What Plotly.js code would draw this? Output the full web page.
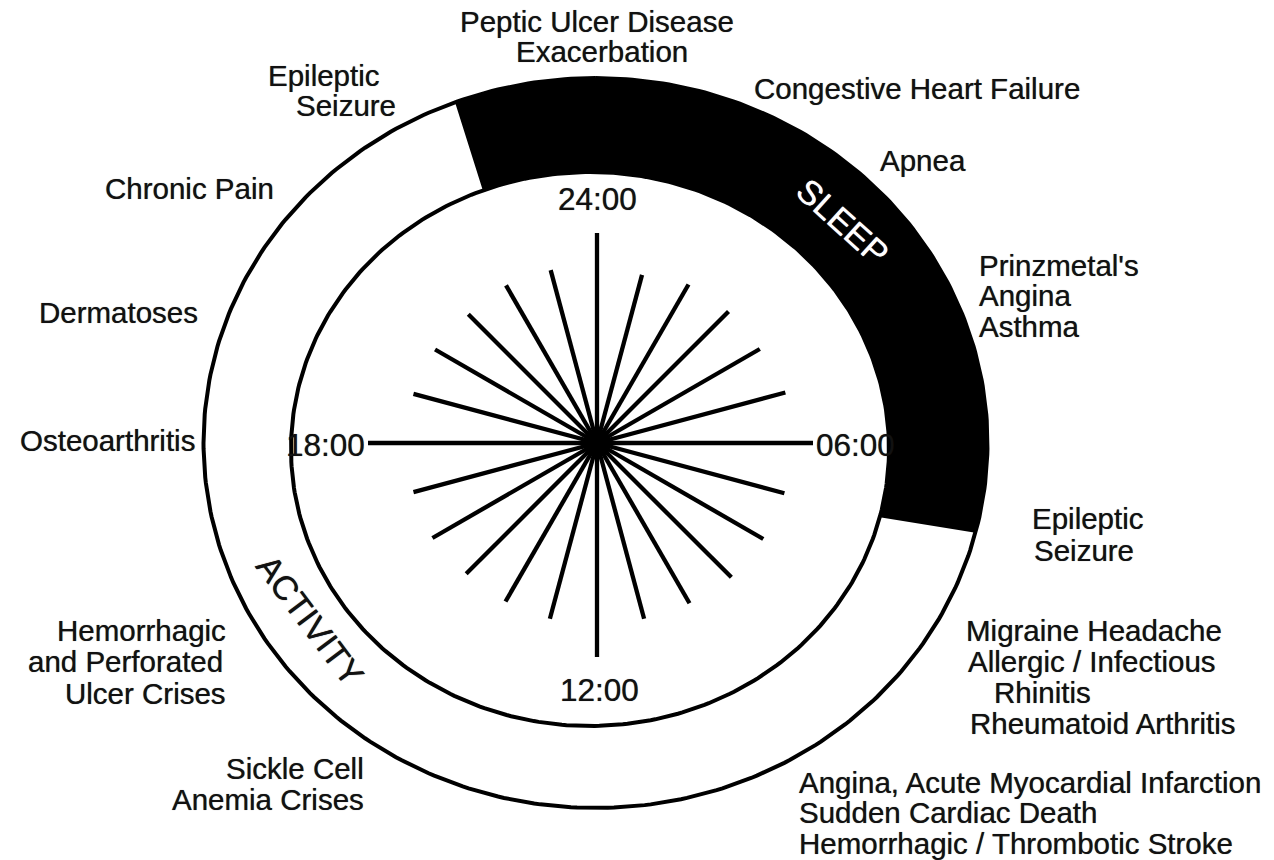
<!DOCTYPE html>
<html>
<head>
<meta charset="utf-8">
<script src="https://cdn.plot.ly/plotly-3.0.1.min.js"></script>
<style>
html, body { margin: 0; padding: 0; background: #ffffff; }
#chart { width: 1274px; height: 860px; }
</style>
</head>
<body>
<div id="chart"></div>
<script>
// ================= DATA =================
// one spoke per clock hour (24-hour dial, 24:00 at top, clockwise)
const spokeHours = [0, 1, 2, 3, 4, 5, 6, 7, 8, 9, 10, 11, 12, 13, 14, 15, 16, 17, 18, 19, 20, 21, 22, 23];
// relative spoke lengths
const spokeLengths = [210, 174, 183, 186, 188, 195, 216, 194, 192, 190, 185, 182, 214, 182, 183, 185, 190, 190, 229, 190, 187, 182, 182, 179];

// sleep span on the 24-hour dial (hours)
const sleepStartHour = 22.6;
const sleepEndHour = 6.95;

const clockLabels = ["24:00", "06:00", "12:00", "18:00"];
const phaseLabels = ["SLEEP", "ACTIVITY"];

const conditionLabels = [
  ["Peptic Ulcer Disease", "Exacerbation"],
  ["Epileptic", "Seizure"],
  ["Congestive Heart Failure"],
  ["Apnea"],
  ["Chronic Pain"],
  ["Prinzmetal's", "Angina", "Asthma"],
  ["Dermatoses"],
  ["Osteoarthritis"],
  ["Epileptic", "Seizure"],
  ["Migraine Headache", "Allergic / Infectious", "Rhinitis", "Rheumatoid Arthritis"],
  ["Hemorrhagic", "and Perforated", "Ulcer Crises"],
  ["Sickle Cell", "Anemia Crises"],
  ["Angina, Acute Myocardial Infarction", "Sudden Cardiac Death", "Hemorrhagic / Thrombotic Stroke"]
];

// ================= LAYOUT / GEOMETRY =================
const W = 1274, H = 860;
const outer = { cx: 595.5, cy: 443, rx: 392, ry: 365 };
const inner = { cx: 590, cy: 449, rx: 299, ry: 277 };
const hub = { cx: 597, cy: 443 };
const INK = "#111111";
const FONT = "Liberation Sans, Arial, Helvetica, sans-serif";
const LABEL_SIZE = 29.5;
const SHADOW = "0px 0px 0.7px rgba(0,0,0,0.7)";

const conditionPlacement = [
  { anchor: "center", xs: [597, 602], y: 21, dy: 30 },
  { anchor: "center", xs: [324, 346], y: 75, dy: 30 },
  { anchor: "left", xs: [752], y: 88 },
  { anchor: "left", xs: [878], y: 160 },
  { anchor: "right", xs: [276], y: 188 },
  { anchor: "left", xs: [977, 977, 977], y: 265, dy: 30.5 },
  { anchor: "right", xs: [200], y: 312 },
  { anchor: "right", xs: [197], y: 440 },
  { anchor: "left", xs: [1030, 1032], y: 518, dy: 32 },
  { anchor: "left", xs: [964, 966, 992, 968], y: 630, dy: 31 },
  { anchor: "right", xs: [228, 225, 228], y: 630, dy: 31.5 },
  { anchor: "right", xs: [366, 366], y: 768, dy: 31 },
  { anchor: "left", xs: [797, 797, 797], y: 782, dy: 30.5 }
];
const clockPlacement = [
  { x: 597, y: 199, anchor: "center" },
  { x: 814, y: 445, anchor: "left" },
  { x: 599, y: 690, anchor: "center" },
  { x: 367, y: 445, anchor: "right" }
];
const phasePlacement = [
  { x: 843, y: 222, angle: 42, color: "#ffffff" },
  { x: 310, y: 620, angle: 53, color: INK }
];

// hour -> angle (radians) clockwise from top
function hourAngle(h) { return h / 24 * 2 * Math.PI; }

function ellipseArc(e, h0, h1, n) {
  const xs = [], ys = [];
  for (let i = 0; i <= n; i++) {
    const a = hourAngle(h0 + (h1 - h0) * i / n);
    xs.push(e.cx + e.rx * Math.sin(a));
    ys.push(e.cy - e.ry * Math.cos(a));
  }
  return { xs, ys };
}

// ================= TRACES =================
const traces = [];

// sleep band
let endH = sleepEndHour;
if (endH < sleepStartHour) endH += 24;
const oArc = ellipseArc(outer, sleepStartHour, endH, 200);
const iArc = ellipseArc(inner, endH, sleepStartHour, 200);
traces.push({
  type: "scatter", mode: "lines",
  x: oArc.xs.concat(iArc.xs), y: oArc.ys.concat(iArc.ys),
  fill: "toself", fillcolor: "#000000",
  line: { width: 0, color: "#000000" },
  hoverinfo: "skip", showlegend: false
});

// ring outlines
[outer, inner].forEach(e => {
  const arc = ellipseArc(e, 0, 24, 400);
  traces.push({
    type: "scatter", mode: "lines", x: arc.xs, y: arc.ys,
    line: { width: 4, color: "#000000" },
    hoverinfo: "skip", showlegend: false
  });
});

// spokes
const sx = [], sy = [];
spokeHours.forEach((h, i) => {
  const a = hourAngle(h);
  sx.push(hub.cx, hub.cx + spokeLengths[i] * Math.sin(a), null);
  sy.push(hub.cy, hub.cy - spokeLengths[i] * Math.cos(a), null);
});
traces.push({
  type: "scatter", mode: "lines", x: sx, y: sy,
  line: { width: 4.3, color: "#000000" },
  hoverinfo: "skip", showlegend: false
});
traces.push({
  type: "scatter", mode: "markers", x: [hub.cx], y: [hub.cy],
  marker: { size: 18, color: "#000000" },
  hoverinfo: "skip", showlegend: false
});

// ================= ANNOTATIONS =================
const annotations = [];
conditionLabels.forEach((lines, gi) => {
  const p = conditionPlacement[gi];
  lines.forEach((txt, li) => {
    annotations.push({
      text: txt, x: p.xs[li], y: p.y + li * (p.dy || 0),
      xref: "x", yref: "y", showarrow: false,
      xanchor: p.anchor, yanchor: "middle",
      font: { family: FONT, size: LABEL_SIZE, color: INK, shadow: SHADOW }
    });
  });
});
clockLabels.forEach((txt, i) => {
  const p = clockPlacement[i];
  annotations.push({
    text: txt, x: p.x, y: p.y, xref: "x", yref: "y", showarrow: false,
    xanchor: p.anchor, yanchor: "middle",
    font: { family: FONT, size: 31.5, color: INK, shadow: SHADOW }
  });
});
phaseLabels.forEach((txt, i) => {
  const p = phasePlacement[i];
  annotations.push({
    text: txt, x: p.x, y: p.y, xref: "x", yref: "y", showarrow: false,
    xanchor: "center", yanchor: "middle", textangle: p.angle,
    font: { family: FONT, size: 34, color: p.color,
            shadow: "0px 0px 0.8px " + p.color }
  });
});

const layout = {
  width: W, height: H, autosize: false,
  margin: { l: 0, r: 0, t: 0, b: 0, pad: 0 },
  paper_bgcolor: "#ffffff", plot_bgcolor: "#ffffff",
  xaxis: { range: [0, W], visible: false, fixedrange: true },
  yaxis: { range: [H, 0], visible: false, fixedrange: true },
  showlegend: false,
  annotations: annotations
};

Plotly.newPlot("chart", traces, layout, { staticPlot: true, displayModeBar: false });
</script>
</body>
</html>
